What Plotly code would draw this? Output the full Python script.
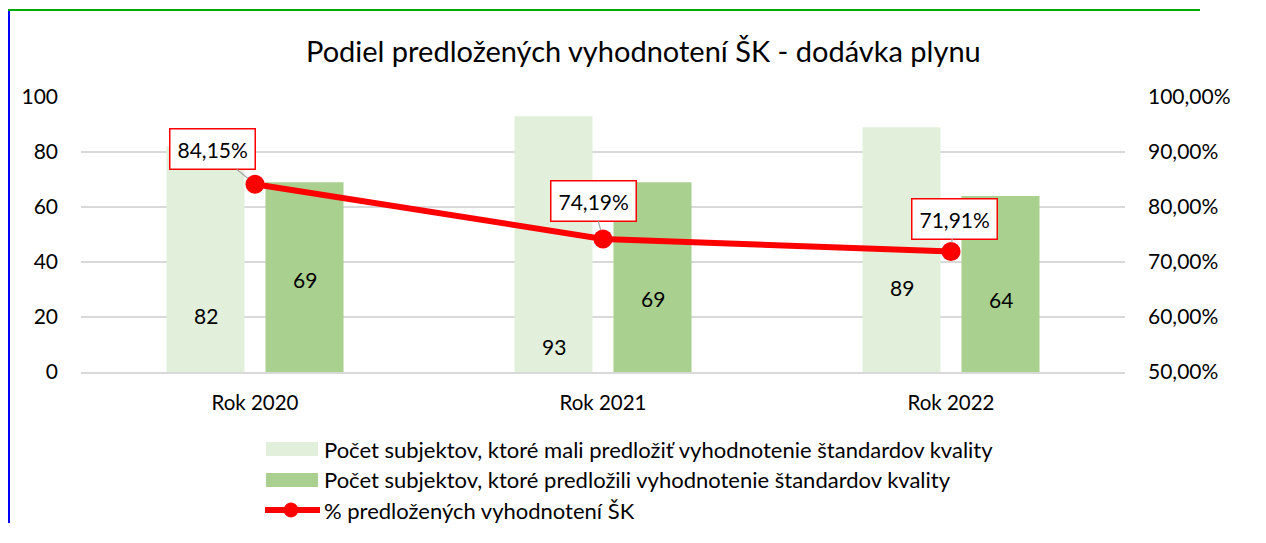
import plotly.graph_objects as go

categories = ["Rok 2020", "Rok 2021", "Rok 2022"]
mali_predlozit = [82, 93, 89]
predlozili = [69, 69, 64]
podiel = [0.8415, 0.7419, 0.7191]
# vertical position (left-axis units) where the bar value labels sit
label_pos_mali = [20.7, 9.2, 30.7]
label_pos_pred = [33.7, 26.8, 26.2]
# offsets (px) of the percentage callouts from their points
callout_dx = [-43, -10, 3]
callout_dy = [-35, -38, -33]

name_mali = "Počet subjektov, ktoré mali predložiť vyhodnotenie štandardov kvality"
name_pred = "Počet subjektov, ktoré predložili vyhodnotenie štandardov kvality"
name_pct = "% predložených vyhodnotení ŠK"
title = "Podiel predložených vyhodnotení ŠK - dodávka plynu"

LIGHT = "#E2EFDA"
DARK = "#A9D08E"
RED = "#FF0000"
FONT = "Lato, Open Sans, sans-serif"

OFF = 8  # page body margin
W, H = 1240, 515
# plot area in screen pixels
SL, SR, ST, SB = 81, 1125, 97, 372
L, R, T, B = SL - OFF, SR - OFF, ST - OFF, SB - OFF


def px(x):
    return (x - SL) / (SR - SL)


def py(y):
    return (SB - y) / (SB - ST)


fig = go.Figure()
fig.add_trace(go.Bar(x=categories, y=mali_predlozit, name=name_mali,
                     marker=dict(color=LIGHT, line=dict(width=0)),
                     showlegend=False))
fig.add_trace(go.Bar(x=categories, y=predlozili, name=name_pred,
                     marker=dict(color=DARK, line=dict(width=0)),
                     showlegend=False))
fig.add_trace(go.Scatter(x=categories, y=podiel, name=name_pct, yaxis="y2",
                         mode="lines+markers",
                         line=dict(color=RED, width=6),
                         marker=dict(color=RED, size=19),
                         showlegend=False))

annotations = []
for c, v, p in zip(categories, mali_predlozit, label_pos_mali):
    annotations.append(dict(x=c, y=p, xref="x", yref="y", text=str(v),
                            showarrow=False, xshift=-49.5,
                            font=dict(size=21, color="#000000", family=FONT)))
for c, v, p in zip(categories, predlozili, label_pos_pred):
    annotations.append(dict(x=c, y=p, xref="x", yref="y", text=str(v),
                            showarrow=False, xshift=49.5,
                            font=dict(size=21, color="#000000", family=FONT)))
for c, v, dx, dy in zip(categories, podiel, callout_dx, callout_dy):
    txt = f"{v*100:.2f}%".replace(".", ",")
    annotations.append(dict(x=c, y=v, xref="x", yref="y2", text=txt,
                            showarrow=True, ax=dx, ay=dy, arrowhead=0,
                            arrowwidth=1.2, arrowcolor="#A6A6A6", standoff=9,
                            bgcolor="#FFFFFF", bordercolor=RED, borderwidth=1.5,
                            borderpad=7,
                            font=dict(size=21, color="#000000", family=FONT)))

# title
annotations.append(dict(x=px(643), y=py(50), xref="paper", yref="paper",
                        text=title, showarrow=False, xanchor="center",
                        yanchor="middle",
                        font=dict(size=29, color="#000000", family=FONT)))

shapes = [
    # chart frame (only left and top edges are visible in the view)
    dict(type="line", xref="paper", yref="paper", x0=px(9), x1=px(9),
         y0=py(9), y1=py(530), line=dict(color="#0000FF", width=2)),
    dict(type="line", xref="paper", yref="paper", x0=px(8), x1=px(1200),
         y0=py(10), y1=py(10), line=dict(color="#00AA00", width=2)),
    # custom legend
    dict(type="rect", xref="paper", yref="paper", x0=px(266), x1=px(318),
         y0=py(442), y1=py(456), fillcolor=LIGHT, line=dict(width=0)),
    dict(type="rect", xref="paper", yref="paper", x0=px(266), x1=px(318),
         y0=py(473), y1=py(487), fillcolor=DARK, line=dict(width=0)),
    dict(type="line", xref="paper", yref="paper", x0=px(265), x1=px(320),
         y0=py(510), y1=py(510), line=dict(color=RED, width=6)),
    dict(type="circle", xref="paper", yref="paper", x0=px(284), x1=px(298),
         y0=py(503), y1=py(517), fillcolor=RED, line=dict(color=RED, width=1)),
]
for txt, yy in [(name_mali, 449), (name_pred, 480), (name_pct, 510)]:
    annotations.append(dict(x=px(322), y=py(yy), xref="paper", yref="paper",
                            text=txt, showarrow=False, xanchor="left",
                            yanchor="middle",
                            font=dict(size=22, color="#000000", family=FONT)))

fig.update_layout(
    width=W, height=H,
    margin=dict(l=L, r=W - R, t=T, b=H - B, pad=0),
    paper_bgcolor="#FFFFFF", plot_bgcolor="#FFFFFF",
    separators=", ",
    barmode="group", bargap=0.431, bargroupgap=0.212,
    font=dict(family=FONT, size=21, color="#000000"),
    xaxis=dict(type="category", showgrid=False, showline=True,
               linecolor="#D9D9D9", linewidth=1.5, ticks="",
               tickfont=dict(size=20.5), ticklabelstandoff=12),
    yaxis=dict(range=[0, 100], dtick=20, showgrid=True, gridcolor="#D9D9D9",
               gridwidth=1.5, zeroline=False, showline=False, ticks="",
               tickfont=dict(size=21), ticklabelstandoff=22),
    yaxis2=dict(range=[0.5, 1.0], dtick=0.1, overlaying="y", side="right",
                tickformat=".2%", showgrid=False, zeroline=False,
                showline=False, ticks="", tickfont=dict(size=21),
                ticklabelstandoff=22),
    annotations=annotations,
    shapes=shapes,
    showlegend=False,
)

fig.write_html("out.html")
